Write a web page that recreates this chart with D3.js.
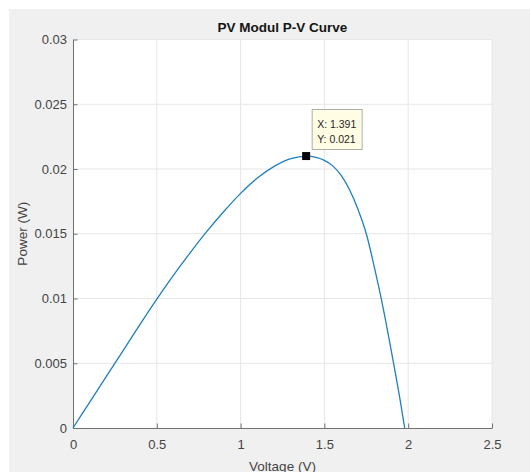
<!DOCTYPE html>
<html lang="en">
<head>
  <meta charset="UTF-8">
  <script type="text/javascript" src="https://cdn.jsdelivr.net/npm/d3@7/dist/d3.min.js"></script>
  <title>PV Modul P-V Curve</title>
  <style type="text/css">
    * {
      margin: 0;
      padding: 0;
    }

    html, body {
      width: 100%;
      height: 100%;
      background-color: #fff;
      overflow: hidden;
    }

    text {
      font-family: "Liberation Sans", Arial, sans-serif;
    }
  </style>
</head>

<body>
<div id="box"></div>
</body>
<script type="text/javascript">
  // data
  var voltage = [0, 0.1, 0.2, 0.3, 0.4, 0.5, 0.6, 0.7, 0.8, 0.9, 1.0, 1.1, 1.2, 1.3, 1.391,
    1.45, 1.5, 1.55, 1.6, 1.65, 1.7, 1.75, 1.8, 1.85, 1.9, 1.95, 1.979]
  var power = [0, 0.0020, 0.0040, 0.0060, 0.0080, 0.00995, 0.0118, 0.01355, 0.0152, 0.01672, 0.01812,
    0.0193, 0.0202, 0.0208, 0.0210,
    0.0209, 0.02067, 0.02024, 0.0195, 0.0184, 0.0169, 0.0150, 0.0123, 0.0093, 0.0059, 0.0023, 0]
  var xTicks = [0, 0.5, 1, 1.5, 2, 2.5]
  var yTicks = [0, 0.005, 0.01, 0.015, 0.02, 0.025, 0.03]
  var peakV = 1.391
  var peakP = 0.021

  var width = 530
  var height = 472
  // plot box (note: "top" is taken by window.top, so prefix these)
  var pLeft = 73, pRight = 492, pTop = 39.5, pBottom = 428

  var svg = d3.select('#box')
    .append('svg')
    .attr('width', width)
    .attr('height', height)

  // figure background
  svg.append('rect')
    .attr('x', 9).attr('y', 9)
    .attr('width', width - 9).attr('height', height - 9)
    .attr('fill', '#f0f0f0')

  svg.append('rect')
    .attr('x', pLeft).attr('y', pTop)
    .attr('width', pRight - pLeft).attr('height', pBottom - pTop)
    .attr('fill', '#fff')

  var x = d3.scaleLinear().domain([0, 2.5]).range([pLeft, pRight])
  var y = d3.scaleLinear().domain([0, 0.03]).range([pBottom, pTop])

  // grid
  svg.append('g').selectAll('line')
    .data(xTicks.slice(1))
    .enter().append('line')
    .attr('x1', function (d) { return x(d) }).attr('x2', function (d) { return x(d) })
    .attr('y1', pTop).attr('y2', pBottom)
    .attr('stroke', '#e6e6e6')
  svg.append('g').selectAll('line')
    .data(yTicks.slice(1))
    .enter().append('line')
    .attr('y1', function (d) { return y(d) }).attr('y2', function (d) { return y(d) })
    .attr('x1', pLeft).attr('x2', pRight)
    .attr('stroke', '#e6e6e6')

  // axes, ticks pointing inward like matlab
  var fmt = function (d) { return String(+d.toFixed(3)) }
  var xaxis = d3.axisBottom(x).tickValues(xTicks).tickFormat(fmt)
    .tickSizeInner(-4.5).tickSizeOuter(0).tickPadding(12)
  var yaxis = d3.axisLeft(y).tickValues(yTicks).tickFormat(fmt)
    .tickSizeInner(-4.5).tickSizeOuter(0).tickPadding(6)

  var gx = svg.append('g').attr('transform', 'translate(0,' + pBottom + ')').call(xaxis)
  var gy = svg.append('g').attr('transform', 'translate(' + pLeft + ',0)').call(yaxis)

  ;[gx, gy].forEach(function (g) {
    g.select('.domain').attr('stroke', '#707070')
    g.selectAll('.tick line').attr('stroke', '#707070')
    g.selectAll('.tick text')
      .attr('fill', '#444')
      .style('font-size', '13px')
      .style('font-family', '"Liberation Sans", Arial, sans-serif')
  })
  gx.selectAll('.tick text').attr('dy', '0.71em')

  // curve
  var line = d3.line()
    .x(function (d, i) { return x(voltage[i]) })
    .y(function (d, i) { return y(power[i]) })
    .curve(d3.curveMonotoneX)

  svg.append('path')
    .datum(power)
    .attr('d', line)
    .attr('fill', 'none')
    .attr('stroke', '#1f7fc0')
    .attr('stroke-width', 1.3)

  // data tip
  var px = x(peakV), py = y(peakP)
  svg.append('rect')
    .attr('x', px - 4).attr('y', py - 4)
    .attr('width', 8).attr('height', 8)
    .attr('fill', '#000')

  var tip = svg.append('g').attr('transform', 'translate(' + (px + 6) + ',' + (py - 46.5) + ')')
  tip.append('rect')
    .attr('width', 50).attr('height', 40)
    .attr('fill', '#fffde4')
    .attr('stroke', '#9a9a9a')
    .attr('stroke-width', 0.8)
  tip.append('text')
    .attr('x', 5).attr('y', 18)
    .attr('font-size', 10.5)
    .attr('fill', '#262626')
    .text('X: ' + peakV)
  tip.append('text')
    .attr('x', 5).attr('y', 33)
    .attr('font-size', 10.5)
    .attr('fill', '#262626')
    .text('Y: ' + peakP)

  // titles
  svg.append('text')
    .attr('x', (pLeft + pRight) / 2).attr('y', 32)
    .attr('text-anchor', 'middle')
    .attr('font-size', 13.5)
    .attr('font-weight', 'bold')
    .attr('fill', '#141414')
    .text('PV Modul P-V Curve')

  svg.append('text')
    .attr('x', (pLeft + pRight) / 2).attr('y', 471)
    .attr('text-anchor', 'middle')
    .attr('font-size', 13.5)
    .attr('fill', '#444')
    .text('Voltage (V)')

  svg.append('text')
    .attr('transform', 'translate(27,' + (pTop + pBottom) / 2 + ') rotate(-90)')
    .attr('text-anchor', 'middle')
    .attr('font-size', 13.5)
    .attr('fill', '#444')
    .text('Power (W)')
</script>
</html>
